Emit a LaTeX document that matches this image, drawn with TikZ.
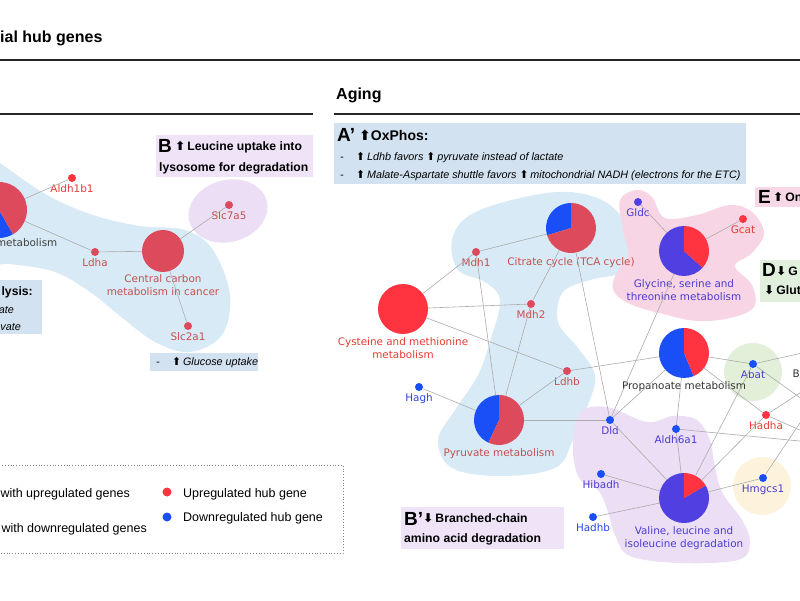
\documentclass[tikz,border=0pt]{standalone}
\usepackage{fontspec}
\setmainfont{Liberation Sans}
\newfontfamily\netfont{DejaVu Sans}
\usetikzlibrary{positioning}
\definecolor{pred}{HTML}{FF3440}
\definecolor{mred}{HTML}{DC4A5C}
\definecolor{pblue}{HTML}{1A4FF7}
\definecolor{pviol}{HTML}{5040E2}
\definecolor{tred}{HTML}{E63A33}
\definecolor{tmred}{HTML}{C4504C}
\definecolor{tviol}{HTML}{4B3BD3}
\definecolor{tblue}{HTML}{2A45DD}
\definecolor{blobblue}{HTML}{D9EAF7}
\definecolor{blobpink}{HTML}{F8D5E5}
\definecolor{bloblav}{HTML}{ECDFF5}
\definecolor{blobgreen}{HTML}{E2F0DA}
\definecolor{blobyel}{HTML}{FDF3DC}
\definecolor{boxblue}{HTML}{D3E2F1}
\definecolor{boxlav}{HTML}{EFE3F7}
\definecolor{boxpink}{HTML}{F8D8E6}
\definecolor{boxgreen}{HTML}{E0F0DC}
\newcommand{\upa}{{\netfont\upshape\symbol{"2B06}}}
\newcommand{\dna}{{\netfont\upshape\symbol{"2B07}}}
\newcommand{\pieseg}[5]{\fill[#5] (#1.center) -- ++(#3:#2) arc[start angle=#3, end angle=#4, radius=#2] -- cycle;}
\tikzset{
  hub/.style   ={circle, inner sep=0pt, minimum size=8pt},
  pie/.style   ={circle, inner sep=0pt},
  glbl/.style  ={font=\netfont\fontsize{10.4}{12.6}\selectfont, inner sep=0.5pt, align=center},
  link/.style  ={draw=black!33, line width=0.6pt},
  rule/.style  ={line width=2pt, black!85},
  hdr/.style   ={font=\fontsize{16}{18}\selectfont\bfseries, anchor=base west, inner sep=0pt},
  bigl/.style  ={font=\fontsize{19}{20}\selectfont\bfseries, anchor=base west, inner sep=0pt},
  btxt/.style  ={font=\fontsize{12.2}{14}\selectfont\bfseries, anchor=base west, inner sep=0pt},
  itxt/.style  ={font=\fontsize{10.8}{12}\selectfont\itshape, anchor=base west, inner sep=0pt},
  ltxt/.style  ={font=\fontsize{12.5}{14}\selectfont, anchor=base west, inner sep=0pt},
  notebox/.style={anchor=north west, inner sep=0pt},
}
\begin{document}
\begin{tikzpicture}[x=1pt, y=1pt]
  \useasboundingbox (0,0) rectangle (800,600);
  \clip (0,0) rectangle (800,600);

  % headers
  \node[hdr] (title) at (0,557) {ial hub genes};
  \draw[rule] (0,540) -- (800,540);
  \draw[rule] (0,486) -- (313,486); \draw[rule] (334,486) -- (800,486);
  \node[hdr] (aging) at (336,500) {Aging};

  % module shading
  \fill[blobblue] plot[smooth cycle, tension=0.6] coordinates {(-20,450) (0,437) (47,405) (93,385) (140,374) (185,370) (213,350) (230,305) (222,265) (190,248) (155,258) (120,284) (90,308) (55,328) (10,336) (-20,338) (-40,395)};
  \fill[bloblav, rotate around={15:(228,389)}] (228,389) ellipse[x radius=40, y radius=31];
  \fill[blobblue] plot[smooth cycle, tension=0.6] coordinates {(452,360) (470,385) (520,402) (570,408) (610,395) (635,360) (628,330) (590,320) (563,308) (558,278) (578,252) (595,225) (588,195) (573,160) (555,132) (500,124) (452,132) (438,160) (455,190) (478,225) (492,265) (500,300) (485,318) (458,330)};
  \fill[blobpink] plot[smooth cycle, tension=0.6] coordinates {(620,400) (637,410) (652,403) (665,382) (697,385) (730,395) (752,388) (764,367) (752,347) (735,334) (752,315) (754,293) (730,282) (697,279) (663,286) (630,296) (613,310) (617,328) (628,345) (623,370)};
  \fill[bloblav] plot[smooth cycle, tension=0.6] coordinates {(580,187) (607,193) (647,178) (673,184) (697,180) (710,160) (714,138) (722,108) (742,80) (750,57) (738,40) (680,37) (630,44) (615,65) (608,88) (598,110) (579,122) (573,153)};
  \fill[blobgreen] (753,228) circle[radius=29];
  \fill[blobyel] (762,114) circle[radius=29];

  % note boxes
  \node[notebox, fill=boxblue, minimum width=412pt, minimum height=61pt] (boxA) at (334,477) {};
  \node[bigl] (ltrA) at (337,458) {A’}; \node[btxt, font=\fontsize{14}{16}\selectfont\bfseries] (oxp) at (359,459) {\upa OxPhos:};
  \node[itxt] (dashA1) at (340,439.5) {-}; \node[itxt] (noteA1) at (356,439.5) {\upa\,Ldhb favors \upa\,pyruvate instead of lactate};
  \node[itxt] (dashA2) at (340,421.5) {-}; \node[itxt] (noteA2) at (356,421.5) {\upa\,Malate-Aspartate shuttle favors \upa\,mitochondrial NADH (electrons for the ETC)};

  \node[notebox, fill=boxlav, minimum width=157pt, minimum height=42pt] (boxB) at (156,465) {};
  \node[bigl] (ltrB) at (158,447) {B}; \node[btxt] (noteB1) at (175,449.5) {\upa\,Leucine uptake into};
  \node[btxt] (noteB2) at (159,428.5) {lysosome for degradation};

  \node[notebox, fill=boxblue, minimum width=47pt, minimum height=54pt] (boxG) at (-5,320) {};
  \node[btxt, anchor=base east] (glyc) at (33,304) {lysis:};
  \node[itxt, anchor=base east] (glyc1) at (14,286) {ate};
  \node[itxt, anchor=base east] (glyc2) at (21,269) {uvate};

  \node[notebox, fill=boxblue, minimum width=108pt, minimum height=18pt] (boxC) at (150,247) {};
  \node[itxt] (dashC) at (156,234.5) {-}; \node[itxt] (noteC) at (172,234.5) {\upa\,Glucose uptake};

  \node[notebox, fill=boxlav, minimum width=163pt, minimum height=42pt] (boxBp) at (401,93) {};
  \node[bigl] (ltrBp) at (404,75) {B’}; \node[btxt] (noteBp1) at (423,78) {\dna\,Branched-chain};
  \node[btxt] (noteBp2) at (404,58) {amino acid degradation};

  \node[notebox, fill=boxpink, minimum width=50pt, minimum height=20pt] (boxE) at (755,413) {};
  \node[bigl] (ltrE) at (758,396) {E}; \node[btxt] (noteE) at (773,398.5) {\upa\,On};

  \node[notebox, fill=boxgreen, minimum width=45pt, minimum height=42pt] (boxD) at (760,340) {};
  \node[bigl] (ltrD) at (762,323) {D}; \node[btxt] (noteD1) at (776,324) {\dna\,G};
  \node[btxt] (noteD2) at (764,305.5) {\dna\,Glut};

  % left network
  \node[pie, minimum size=56pt] (lp) at (-1,390) {};
  \pieseg{lp}{28pt}{90}{180}{mred} \pieseg{lp}{28pt}{180}{300}{pblue} \pieseg{lp}{28pt}{300}{450}{mred}
  \node[glbl, anchor=east, text=black!75] (lplbl) at (58,357) {metabolism};
  \node[pie, minimum size=42pt, fill=mred, label={[glbl, text=tmred, label distance=2pt]below:{Central carbon\\metabolism in cancer}}] (ccm) at (163,349) {};
  \node[hub, fill=pred, label={[glbl, text=tred, label distance=2pt]below:Aldh1b1}] (aldh1b1) at (72,422) {};
  \node[hub, fill=mred, label={[glbl, text=tmred, label distance=2pt]below:Ldha}] (ldha) at (95,348) {};
  \node[hub, fill=mred, label={[glbl, text=tmred, label distance=2pt]below:Slc2a1}] (slc2a1) at (188,274) {};
  \node[hub, fill=mred, label={[glbl, text=tmred, label distance=2pt]below:Slc7a5}] (slc7a5) at (229,395) {};
  \draw[link] (lp) -- (aldh1b1); \draw[link] (lp) -- (ldha); \draw[link] (ldha) -- (ccm);
  \draw[link] (ccm) -- (slc7a5); \draw[link] (ccm) -- (slc2a1);

  % aging network
  \node[pie, minimum size=50pt] (cit) at (571,372) {};
  \pieseg{cit}{25pt}{90}{197}{pblue} \pieseg{cit}{25pt}{197}{450}{mred}
  \node[glbl, text=tmred, below=4pt of cit] (citlbl) {Citrate cycle (TCA cycle)};
  \node[pie, minimum size=50pt, fill=pred, label={[glbl, text=tred, label distance=3pt]below:{Cysteine and methionine\\metabolism}}] (cys) at (403,291) {};
  \node[pie, minimum size=50pt] (pyr) at (499,180) {};
  \pieseg{pyr}{25pt}{90}{245}{pblue} \pieseg{pyr}{25pt}{245}{450}{mred}
  \node[glbl, text=tmred, below=3pt of pyr] (pyrlbl) {Pyruvate metabolism};
  \node[pie, minimum size=50pt] (prop) at (684,247) {};
  \pieseg{prop}{25pt}{90}{293}{pblue} \pieseg{prop}{25pt}{293}{450}{pred}
  \node[glbl, text=black!80, below=3pt of prop] (proplbl) {Propanoate metabolism};
  \node[pie, minimum size=50pt] (gly) at (684,349) {};
  \pieseg{gly}{25pt}{90}{318}{pviol} \pieseg{gly}{25pt}{318}{450}{pred}
  \node[glbl, text=tviol, below=3pt of gly] (glylbl) {Glycine, serine and\\threonine metabolism};
  \node[pie, minimum size=50pt] (val) at (684,102) {};
  \pieseg{val}{25pt}{90}{390}{pviol} \pieseg{val}{25pt}{30}{90}{pred}
  \node[glbl, text=tviol, below=3pt of val] (vallbl) {Valine, leucine and\\isoleucine degradation};

  \node[hub, fill=mred, label={[glbl, text=tmred, label distance=2pt]below:Mdh1}] (mdh1) at (476,348) {};
  \node[hub, fill=mred, label={[glbl, text=tmred, label distance=2pt]below:Mdh2}] (mdh2) at (531,296) {};
  \node[hub, fill=mred, label={[glbl, text=tmred, label distance=2pt]below:Ldhb}] (ldhb) at (567,229) {};
  \node[hub, fill=pblue, label={[glbl, text=tblue, label distance=2pt]below:Hagh}] (hagh) at (419,213) {};
  \node[hub, fill=pblue, label={[glbl, text=tviol, label distance=2pt]below:Dld}] (dld) at (610,180) {};
  \node[hub, fill=pblue, label={[glbl, text=tviol, label distance=2pt]below:Aldh6a1}] (aldh6a1) at (676,171) {};
  \node[hub, fill=pblue, label={[glbl, text=tviol, label distance=2pt]below:Hibadh}] (hibadh) at (601,126) {};
  \node[hub, fill=pblue, label={[glbl, text=tblue, label distance=2pt]below:Hadhb}] (hadhb) at (593,83) {};
  \node[hub, fill=pblue, label={[glbl, text=tviol, label distance=2pt]below:Hmgcs1}] (hmgcs1) at (763,122) {};
  \node[hub, fill=pred, label={[glbl, text=tred, label distance=2pt]below:Hadha}] (hadha) at (766,185) {};
  \node[hub, fill=pblue, label={[glbl, text=tviol, label distance=2pt]below:Abat}] (abat) at (753,236) {};
  \node[glbl, text=black!80, anchor=west] (bcut) at (792,226) {B};
  \node[hub, fill=pviol, label={[glbl, text=tviol, label distance=2pt]below:Gldc}] (gldc) at (638,398) {};
  \node[hub, fill=pred, label={[glbl, text=tred, label distance=2pt]below:Gcat}] (gcat) at (743,381) {};
  \coordinate (offA) at (820,251); \coordinate (offB) at (820,188);
  \coordinate (offC) at (820,220); \coordinate (offD) at (820,161);
  \coordinate (offE) at (820,157); \coordinate (offF) at (820,207);

  \draw[link] (mdh1) -- (cit); \draw[link] (mdh1) -- (cys); \draw[link] (mdh1) -- (pyr);
  \draw[link] (mdh2) -- (cys); \draw[link] (mdh2) -- (cit); \draw[link] (mdh2) -- (pyr);
  \draw[link] (cys) -- (ldhb); \draw[link] (ldhb) -- (pyr); \draw[link] (ldhb) -- (prop);
  \draw[link] (hagh) -- (pyr); \draw[link] (pyr) -- (dld); \draw[link] (cit) -- (dld);
  \draw[link] (gly) -- (dld); \draw[link] (gldc) -- (gly); \draw[link] (gcat) -- (gly);
  \draw[link] (prop) -- (dld); \draw[link] (prop) -- (aldh6a1); \draw[link] (prop) -- (abat);
  \draw[link] (prop) -- (hadha); \draw[link] (dld) -- (val); \draw[link] (aldh6a1) -- (val);
  \draw[link] (hibadh) -- (val); \draw[link] (hadhb) -- (val); \draw[link] (hmgcs1) -- (val);
  \draw[link] (val) -- (abat); \draw[link] (val) -- (hadha);
  \draw[link] (abat) -- (offA); \draw[link] (abat) -- (offB); \draw[link] (hadha) -- (offC);
  \draw[link] (hadha) -- (offD); \draw[link] (aldh6a1) -- (offE); \draw[link] (hmgcs1) -- (offF);

  % legend
  \draw[black!50, dotted, line width=0.8pt] (-5,47) rectangle (343,135);
  \node[ltxt, anchor=base east] (lgup) at (130,103) {with upregulated genes};
  \node[ltxt, anchor=base east] (lgdn) at (147,68) {with downregulated genes};
  \node[hub, fill=pred, minimum size=9pt] (lgred) at (167,108) {};
  \node[ltxt] (lgredt) at (183,103) {Upregulated hub gene};
  \node[hub, fill=pblue, minimum size=9pt] (lgblue) at (167,83) {};
  \node[ltxt] (lgbluet) at (183,78.5) {Downregulated hub gene};
\end{tikzpicture}
\end{document}
